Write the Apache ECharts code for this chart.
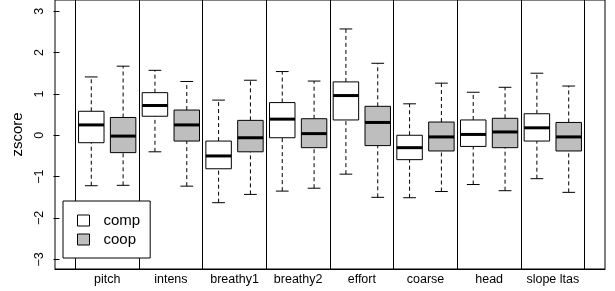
<!DOCTYPE html>
<html>
<head>
<meta charset="utf-8">
<script src="https://cdn.jsdelivr.net/npm/echarts@6/dist/echarts.min.js"></script>
<style>
  html, body { margin: 0; padding: 0; background: #fff; }
  #main { width: 615px; height: 291px; }
</style>
</head>
<body>
<div id="main"></div>
<script>
// features on the x axis
const categories = ['pitch', 'intens', 'breathy1', 'breathy2', 'effort', 'coarse', 'head', 'slope ltas'];
// [lower whisker, q1, median, q3, upper whisker] per feature
const compBox = [
  [-1.22, -0.18, 0.25, 0.58, 1.41],
  [-0.40, 0.46, 0.72, 1.03, 1.57],
  [-1.63, -0.81, -0.50, -0.14, 0.85],
  [-1.35, -0.06, 0.39, 0.79, 1.54],
  [-0.94, 0.37, 0.96, 1.29, 2.57],
  [-1.51, -0.59, -0.30, 0.00, 0.76],
  [-1.19, -0.27, 0.02, 0.37, 1.04],
  [-1.05, -0.14, 0.18, 0.52, 1.50]
];
const coopBox = [
  [-1.21, -0.42, -0.02, 0.43, 1.67],
  [-1.23, -0.14, 0.25, 0.61, 1.30],
  [-1.43, -0.40, -0.06, 0.36, 1.33],
  [-1.28, -0.30, 0.04, 0.40, 1.31],
  [-1.50, -0.25, 0.31, 0.70, 1.74],
  [-1.36, -0.38, -0.04, 0.32, 1.26],
  [-1.34, -0.30, 0.08, 0.41, 1.16],
  [-1.38, -0.38, -0.04, 0.31, 1.19]
];
const yTicks = [-3, -2, -1, 0, 1, 2, 3];

const font = 'Liberation Sans, Arial, sans-serif';

function renderBox(params, api) {
  const x = api.value(0);
  const half = api.size([0.8, 0])[0] / 2;
  const capHalf = half / 2;
  const pLow = api.coord([x, api.value(1)]);
  const pQ1 = api.coord([x, api.value(2)]);
  const pMed = api.coord([x, api.value(3)]);
  const pQ3 = api.coord([x, api.value(4)]);
  const pHigh = api.coord([x, api.value(5)]);
  const cx = pMed[0];
  const dash = { stroke: '#000', lineWidth: 1, lineDash: [4, 3] };
  const solid = { stroke: '#000', lineWidth: 1 };
  return {
    type: 'group',
    children: [
      { type: 'line', shape: { x1: cx, y1: pLow[1], x2: cx, y2: pQ1[1] }, style: dash },
      { type: 'line', shape: { x1: cx, y1: pQ3[1], x2: cx, y2: pHigh[1] }, style: dash },
      { type: 'line', shape: { x1: cx - capHalf, y1: pLow[1], x2: cx + capHalf, y2: pLow[1] }, style: solid },
      { type: 'line', shape: { x1: cx - capHalf, y1: pHigh[1], x2: cx + capHalf, y2: pHigh[1] }, style: solid },
      { type: 'rect', shape: { x: cx - half, y: pQ3[1], width: 2 * half, height: pQ1[1] - pQ3[1] },
        style: { fill: api.visual('color'), stroke: '#000', lineWidth: 1 } },
      { type: 'line', shape: { x1: cx - half, y1: pMed[1], x2: cx + half, y2: pMed[1] },
        style: { stroke: '#000', lineWidth: 3 } }
    ]
  };
}

let myChart = echarts.init(document.getElementById('main'));
let option = {
  animation: false,
  grid: {
    left: 55, right: 10, top: -2, bottom: 22,
    show: true, borderColor: '#000', borderWidth: 1, backgroundColor: '#fff'
  },
  legend: {
    orient: 'vertical',
    left: 63, top: 201,
    padding: [12, 10, 11, 14],
    backgroundColor: '#fff',
    borderColor: '#000',
    borderWidth: 1,
    borderRadius: 0,
    icon: 'rect',
    itemWidth: 12, itemHeight: 11, itemGap: 4,
    z: 10,
    textStyle: { fontFamily: font, fontSize: 15, color: '#000', padding: [0, 0, 0, 9], lineHeight: 15 },
    data: [
      { name: 'comp', itemStyle: { borderColor: '#000', borderWidth: 1 } },
      { name: 'coop', itemStyle: { borderColor: '#000', borderWidth: 1 } }
    ]
  },
  xAxis: {
    type: 'value',
    min: -0.14, max: 17.14,
    axisLine: { show: true, onZero: false, lineStyle: { color: '#000' } },
    axisTick: { show: false },
    splitLine: { show: false },
    axisLabel: {
      customValues: categories.map((c, i) => 1.5 + 2 * i),
      formatter: (v) => categories[Math.round((v - 1.5) / 2)],
      margin: 4,
      color: '#000', fontFamily: font, fontSize: 12.5
    }
  },
  yAxis: {
    type: 'value',
    min: -3.233, max: 3.27,
    name: 'zscore',
    nameLocation: 'middle',
    nameGap: 28,
    nameTextStyle: { color: '#000', fontFamily: font, fontSize: 15 },
    axisLine: { show: false },
    axisTick: { show: true, customValues: yTicks, length: 6, lineStyle: { color: '#000' } },
    splitLine: { show: false },
    axisLabel: {
      customValues: yTicks,
      rotate: 90,
      margin: 9,
      formatter: (v) => String(v).replace('-', '\u2212'),
      color: '#000', fontFamily: font, fontSize: 12.5
    }
  },
  series: [
    {
      name: 'comp',
      type: 'custom',
      color: '#ffffff',
      renderItem: renderBox,
      encode: { x: 0, y: [1, 2, 3, 4, 5] },
      data: compBox.map((b, i) => [2 * i + 1].concat(b)),
      markLine: {
        silent: true,
        symbol: ['none', 'none'],
        label: { show: false },
        lineStyle: { color: '#000', type: 'solid', width: 1 },
        data: categories.concat(['']).map((c, i) => ({ xAxis: 2 * i + 0.5 }))
      }
    },
    {
      name: 'coop',
      type: 'custom',
      color: '#bebebe',
      renderItem: renderBox,
      encode: { x: 0, y: [1, 2, 3, 4, 5] },
      data: coopBox.map((b, i) => [2 * i + 2].concat(b))
    }
  ]
};
myChart.setOption(option);
</script>
</body>
</html>
